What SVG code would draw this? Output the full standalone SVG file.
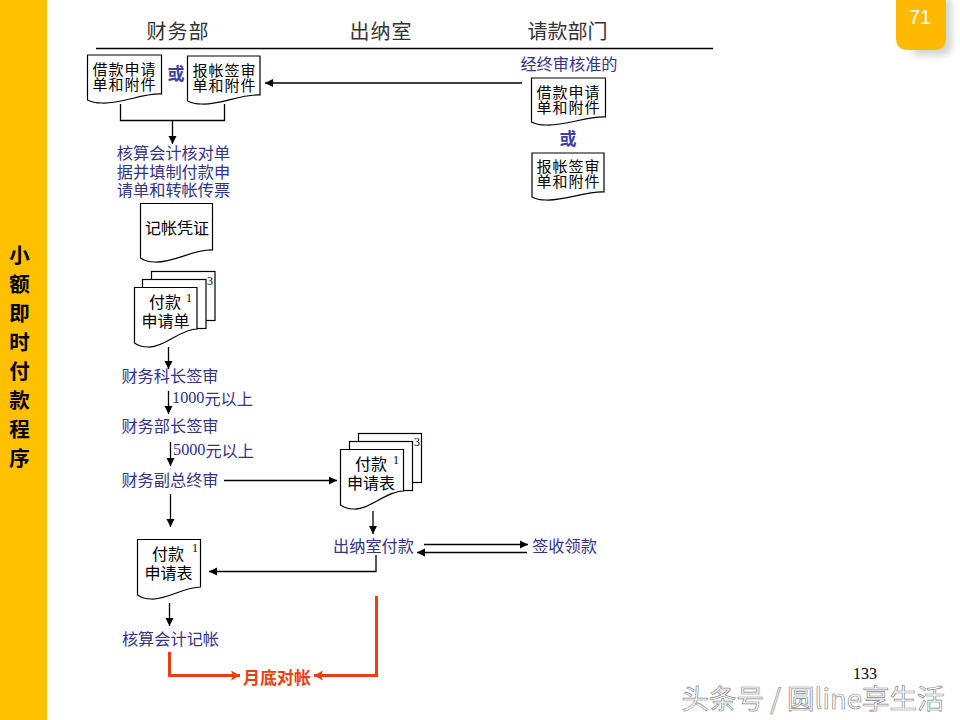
<svg xmlns="http://www.w3.org/2000/svg" width="960" height="720" viewBox="0 0 960 720">
<defs>
<style>
text{font-family:"Noto Sans CJK SC","Liberation Sans",sans-serif;dominant-baseline:central;text-anchor:middle}
.blue{font-size:16.2px;fill:#333388}
.head{font-size:20px;fill:#333}
.doc{font-size:15px;letter-spacing:1px;fill:#000}
.form{font-size:16px;fill:#000}
.num{font-family:"Liberation Serif",serif;font-size:12px;fill:#000}
.or{font-family:"Noto Sans CJK SC",serif;font-size:17px;font-weight:700;fill:#3f3fa8}
.side{font-size:20.5px;font-weight:700;fill:#000}
.sheet{fill:#fff;stroke:#000;stroke-width:1.2}
.ln{fill:none;stroke:#000;stroke-width:1.3}
.red{fill:none;stroke:#ee3d10;stroke-width:3}
</style>
<marker id="a" markerUnits="userSpaceOnUse" markerWidth="9" markerHeight="9" refX="8" refY="4.5" orient="auto"><path d="M0 0.5L8 4.5L0 8.5z" fill="#000"/></marker>
<marker id="r" markerUnits="userSpaceOnUse" markerWidth="10" markerHeight="10" refX="9" refY="5" orient="auto"><path d="M0 0L9 5L0 10L2 5z" fill="#ee3d10"/></marker>
<filter id="sh" x="-30%" y="-30%" width="170%" height="170%"><feGaussianBlur stdDeviation="3"/></filter>
</defs>
<rect width="960" height="720" fill="#fff"/>
<g id="sidebar">
<rect width="47" height="720" fill="#ffc000"/>
<text class="side" x="19.500" y="254">小</text><text class="side" x="19.500" y="283">额</text><text class="side" x="19.500" y="312">即</text><text class="side" x="19.500" y="341">时</text><text class="side" x="19.500" y="370">付</text><text class="side" x="19.500" y="399">款</text><text class="side" x="19.500" y="428">程</text><text class="side" x="19.500" y="457">序</text>
</g>
<g id="page-tab">
<path d="M902 0H952V44Q952 56 940 56H914z" fill="#bbb" opacity=".6" filter="url(#sh)"/>
<path d="M896 0H946V38Q946 50 934 50H908Q896 50 896 38z" fill="#ffb900"/>
<text x="920" y="16.500" style="font-family:'Liberation Sans',sans-serif;font-size:20px;fill:#fff">71</text>
</g>
<g id="headers">
<text class="head" x="178" y="30" letter-spacing="1">财务部</text>
<text class="head" x="381" y="30" letter-spacing="1">出纳室</text>
<text class="head" x="567.5" y="30">请款部门</text>
</g>
<g id="connectors">
<path class="ln" d="M96 48.5H713"/>
<path class="ln" d="M522 83H265" marker-end="url(#a)"/>
<path class="ln" d="M120.5 104V120.5H224.5V104M172.5 120.5V144" marker-end="url(#a)"/>
<path class="ln" d="M168.5 347V369" marker-end="url(#a)"/>
<path class="ln" d="M168.5 391V414" marker-end="url(#a)"/>
<path class="ln" d="M170.5 442V466" marker-end="url(#a)"/>
<path class="ln" d="M224 480.5H337" marker-end="url(#a)"/>
<path class="ln" d="M170.5 494V527" marker-end="url(#a)"/>
<path class="ln" d="M373 511V534" marker-end="url(#a)"/>
<path class="ln" d="M424 544.5H528" marker-end="url(#a)"/>
<path class="ln" d="M527 552.5H417" marker-end="url(#a)"/>
<path class="ln" d="M376 555V571.5H209" marker-end="url(#a)"/>
<path class="ln" d="M169.5 603V626" marker-end="url(#a)"/>
<path class="red" d="M169.5 652V675.5H240" marker-end="url(#r)"/>
<path class="red" d="M376.5 596V675.5H314" marker-end="url(#r)"/>
</g>
<g id="doc-loan-a">
<path class="sheet" d="M87.5 55H161.5V94C143 93 121 104 102 103Q93 103 87.5 100z"/>
<text class="doc"><tspan x="124.500" y="68">借款申请</tspan><tspan x="124.500" y="82.500">单和附件</tspan></text>
</g>
<text class="or" x="176" y="72">或</text>
<g id="doc-reimb-a">
<path class="sheet" d="M187.500 56H260V95C241 94 220 105 202 104Q193 104 187.500 101z"/>
<text class="doc"><tspan x="224.500" y="69">报帐签审</tspan><tspan x="224.500" y="83.500">单和附件</tspan></text>
</g>
<g id="label-approved"><text class="blue" x="569" y="63">经终审核准的</text></g>
<g id="doc-loan-b">
<path class="sheet" d="M531.500 78H605.500V117C587 116 565 126 546 125Q537 125 531.500 122z"/>
<text class="doc"><tspan x="568.500" y="91">借款申请</tspan><tspan x="568.500" y="105.500">单和附件</tspan></text>
</g>
<text class="or" x="568" y="137">或</text>
<g id="doc-reimb-b">
<path class="sheet" d="M532 153H604V192C586 191 565 201 546 200Q537 200 532 197z"/>
<text class="doc"><tspan x="568.500" y="165">报帐签审</tspan><tspan x="568.500" y="179.500">单和附件</tspan></text>
</g>
<g id="label-accounting">
<text class="blue"><tspan x="173.500" y="152">核算会计核对单</tspan><tspan x="173.500" y="171">据并填制付款申</tspan><tspan x="173.500" y="189">请单和转帐传票</tspan></text>
</g>
<g id="doc-voucher">
<path class="sheet" d="M140.500 203.500H212.500V250C194 249 173 263 155 262Q146 262 140.500 258z"/>
<text class="form" x="177" y="227">记帐凭证</text>
</g>
<g id="stack-request">
<rect class="sheet" x="151.500" y="271.500" width="63.500" height="49"/>
<rect class="sheet" x="142.500" y="279.500" width="63.500" height="49"/>
<path class="sheet" d="M134.500 287.500H197V329C181 329 163 348 148 347Q140 347 134.500 343z"/>
<text class="num" x="210" y="281">3</text><text class="num" x="189" y="298">1</text>
<text class="form"><tspan x="165" y="301">付款</tspan><tspan x="165.500" y="320">申请单</tspan></text>
</g>
<g id="steps">
<text class="blue" x="170" y="375">财务科长签审</text>
<text class="blue" x="212.500" y="398"><tspan style="font-family:'Liberation Serif',serif">1000</tspan>元以上</text>
<text class="blue" x="170" y="425">财务部长签审</text>
<text class="blue" x="213.500" y="450"><tspan style="font-family:'Liberation Serif',serif">5000</tspan>元以上</text>
<text class="blue" x="170" y="479">财务副总终审</text>
</g>
<g id="stack-form">
<rect class="sheet" x="358.500" y="433.500" width="63" height="49"/>
<rect class="sheet" x="349.500" y="441.500" width="63" height="49"/>
<path class="sheet" d="M340.500 449.500H403.500V491C387 491 369 510 354 509Q346 509 340.500 505z"/>
<text class="num" x="417" y="442">3</text><text class="num" x="396" y="460">1</text>
<text class="form"><tspan x="371" y="463">付款</tspan><tspan x="371" y="482">申请表</tspan></text>
</g>
<g id="label-cashier"><text class="blue" x="373.500" y="545">出纳室付款</text></g>
<g id="label-receipt"><text class="blue" x="564.500" y="545">签收领款</text></g>
<g id="doc-form">
<path class="sheet" d="M137.500 539.500H200.500V587C184 587 166 600 151 599Q143 599 137.500 595z"/>
<text class="num" x="195" y="548">1</text>
<text class="form"><tspan x="168" y="553">付款</tspan><tspan x="168.500" y="572">申请表</tspan></text>
</g>
<g id="label-book"><text class="blue" x="170.500" y="638">核算会计记帐</text></g>
<g id="label-month"><text x="277" y="676" style="font-size:17px;font-weight:700;fill:#ee3d10">月底对帐</text></g>
<text x="865" y="673" style="font-family:'Liberation Serif',serif;font-size:16px;fill:#000">133</text>
<text x="813" y="697" style="font-size:27.5px;fill:#fff;stroke:#8a8a8a;stroke-width:.7">头条号 / 圆line享生活</text>
</svg>
